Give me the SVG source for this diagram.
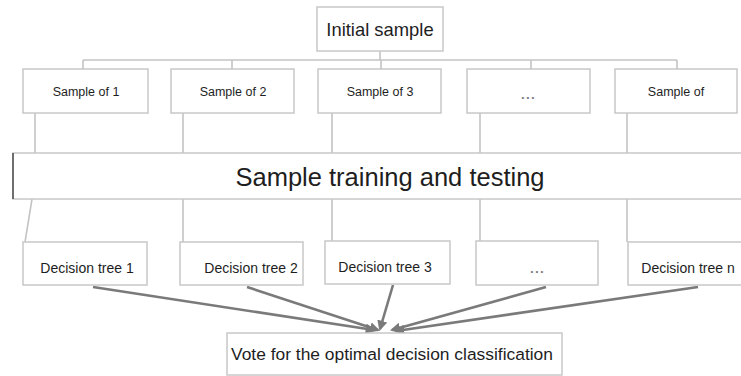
<svg xmlns="http://www.w3.org/2000/svg" width="741" height="376" viewBox="0 0 741 376">
  <defs>
    <style>
      .box { fill: #ffffff; stroke: #c8c8c8; stroke-width: 1.5; }
      .link { fill: none; stroke: #c4c4c4; stroke-width: 1.6; }
      .vote { fill: none; stroke: #7a7a7a; stroke-width: 2.6; marker-end: url(#head); }
      .lbl { font-family: "Liberation Sans", Arial, sans-serif; fill: #1e1e1e; text-anchor: middle; }
      .sm { font-size: 12.5px; }
      .dt { font-size: 14px; }
      .dots { font-family: "Liberation Sans", Arial, sans-serif; fill: #777; font-size: 8px; text-anchor: middle; }
    </style>
    <marker id="head" viewBox="0 0 10 10" refX="8" refY="5" markerWidth="4" markerHeight="4" orient="auto" markerUnits="strokeWidth">
      <path d="M0,0 L10,5 L0,10 z" fill="#7a7a7a"/>
    </marker>
  </defs>
  <rect width="741" height="376" fill="#ffffff"/>

  <!-- tree of connectors -->
  <g id="connectors">
    <path class="link" d="M380,51 V60 M83,60 H677 M83,60 V69 M232,60 V69 M381,60 V69 M531,60 V69 M677,60 V69"/>
    <path class="link" d="M35,113 V153 M183,113 V153 M332,113 V153 M480,113 V153 M627,113 V153"/>
    <path class="link" d="M32,199 L25,242 M183,199 V242 M332,199 V242 M480,199 V242 M627,199 V242"/>
    <line class="vote" x1="93" y1="287" x2="374" y2="330"/>
    <line class="vote" x1="247" y1="287" x2="378" y2="330"/>
    <line class="vote" x1="393" y1="285" x2="380" y2="329"/>
    <line class="vote" x1="546" y1="287" x2="392" y2="330"/>
    <line class="vote" x1="698" y1="287" x2="396" y2="331"/>
  </g>

  <g id="initial">
    <rect class="box" x="317" y="7" width="126" height="44"/>
    <text class="lbl" x="380" y="36" font-size="18.4">Initial sample</text>
  </g>

  <g id="sample1">
    <rect class="box" x="23" y="69" width="125" height="44"/>
    <text class="lbl sm" x="86" y="96">Sample of 1</text>
  </g>
  <g id="sample2">
    <rect class="box" x="171" y="69" width="123" height="44"/>
    <text class="lbl sm" x="233" y="96">Sample of 2</text>
  </g>
  <g id="sample3">
    <rect class="box" x="318" y="69" width="123" height="44"/>
    <text class="lbl sm" x="380" y="96">Sample of 3</text>
  </g>
  <g id="sample-more">
    <rect class="box" x="467" y="69" width="123" height="44"/>
    <text class="dots" x="528" y="100">• • •</text>
  </g>
  <g id="sample-n">
    <rect class="box" x="615" y="69" width="122" height="44"/>
    <text class="lbl sm" x="676" y="96">Sample of</text>
  </g>

  <g id="training">
    <rect class="box" x="13" y="153" width="740" height="46" stroke="#b4b4b4" stroke-width="2"/>
    <line x1="13" y1="153" x2="13" y2="199" stroke="#555" stroke-width="1.6"/>
    <text class="lbl" x="390" y="186" font-size="25.5">Sample training and testing</text>
  </g>

  <g id="tree1">
    <rect class="box" x="23" y="242" width="124" height="43"/>
    <text class="lbl dt" x="87" y="273">Decision tree 1</text>
  </g>
  <g id="tree2">
    <rect class="box" x="180" y="242" width="123" height="43"/>
    <text class="lbl dt" x="251" y="273">Decision tree 2</text>
  </g>
  <g id="tree3">
    <rect class="box" x="325" y="241" width="125" height="43"/>
    <text class="lbl dt" x="385" y="272">Decision tree 3</text>
  </g>
  <g id="tree-more">
    <rect class="box" x="476" y="241" width="122" height="44"/>
    <text class="dots" x="537" y="274">• • •</text>
  </g>
  <g id="tree-n">
    <rect class="box" x="628" y="242" width="120" height="43"/>
    <text class="lbl dt" x="688" y="273">Decision tree n</text>
  </g>

  <g id="vote">
    <rect class="box" x="227" y="333" width="335" height="42"/>
    <text class="lbl" x="392" y="360" font-size="17.4">Vote for the optimal decision classification</text>
  </g>
</svg>
